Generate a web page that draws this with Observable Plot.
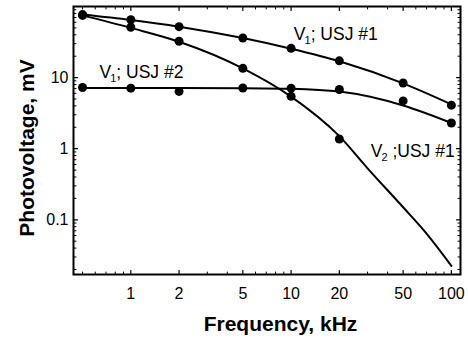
<!DOCTYPE html>
<html><head><meta charset="utf-8">
<script src="https://cdn.jsdelivr.net/npm/d3@7"></script>
<script src="https://cdn.jsdelivr.net/npm/@observablehq/plot@0.6"></script>
<style>body{margin:0;background:#fff}</style>
</head><body><div id="chart"></div>
<script>
// measured points (kHz, mV)
const freq = [0.5, 1, 2, 5, 10, 20, 50, 100];
const v1usj1 = [77, 65, 52, 36, 25.8, 17.2, 8.4, 4.1];
const freqV2 = [0.5, 1, 2, 5, 10, 20];
const v2usj1 = [75, 51, 32.4, 13.5, 5.45, 1.37];
const v1usj2 = [7.25, 7.1, 6.4, 7.15, 7.1, 6.8, 4.7, 2.3];
// fitted curves
const fitFreq1 = [0.5, 1, 2, 5, 10, 20, 50, 100];
const fitV1usj1 = [77, 64.5, 52, 36, 25.5, 17, 8.3, 4.2];
const fitFreqV2 = [0.5, 1, 2, 5, 10, 20, 30, 50, 70, 100];
const fitV2usj1 = [75, 50, 32, 13.5, 5.4, 1.5, 0.53, 0.15, 0.064, 0.0225];
const fitFreq2 = [0.5, 1, 2, 5, 10, 20, 50, 100];
const fitV1usj2 = [7.15, 7.15, 7.15, 7.1, 6.95, 6.35, 4.05, 2.3];
// ticks
const xTicks = [1, 2, 5, 10, 20, 50, 100];
const xTickLabels = ["1", "2", "5", "10", "20", "50", "100"];
const xMinor = [0.5, 0.6, 0.7, 0.8, 0.9, 3, 4, 6, 7, 8, 9, 30, 40, 60, 70, 80, 90];
const yTicks = [0.1, 1, 10];
const yTickLabels = ["0.1", "1", "10"];
const yMinor = [0.02,0.03,0.04,0.05,0.06,0.07,0.08,0.09,0.2,0.3,0.4,0.5,0.6,0.7,0.8,0.9,2,3,4,5,6,7,8,9,20,30,40,50,60,70,80,90];
// annotations
const labels = [
  {x: 10.4, y: 34, main: "V", sub: "1", rest: "; USJ #1"},
  {x: 0.638, y: 10, main: "V", sub: "1", rest: "; USJ #2"},
  {x: 31.4, y: 0.76, main: "V", sub: "2", rest: " ;USJ #1"}
];

const pts = (xs, ys) => xs.map((x, i) => ({x, y: ys[i]}));
const font = "'Liberation Sans', Arial, sans-serif";
const tickShape = {draw(context, l) { context.moveTo(0, 0); context.lineTo(0, -l); }};
const ticksX = (data, anchor, len, w) => Plot.vector(data, {x: (d) => d, frameAnchor: anchor,
  rotate: anchor === "bottom" ? 0 : 180, length: len, anchor: "start", shape: tickShape, stroke: "black", strokeWidth: w});
const ticksY = (data, anchor, len, w) => Plot.vector(data, {y: (d) => d, frameAnchor: anchor,
  rotate: anchor === "left" ? 90 : 270, length: len, anchor: "start", shape: tickShape, stroke: "black", strokeWidth: w});

const chart = Plot.plot({
  width: 468, height: 343,
  marginLeft: 73, marginRight: 8, marginTop: 6, marginBottom: 69,
  style: {fontFamily: font, color: "black", background: "white"},
  x: {type: "log", domain: [0.439, 114], axis: null},
  y: {type: "log", domain: [0.017, 100], axis: null},
  marks: [
    ticksX(xTicks, "bottom", 4, 1.2), ticksX(xMinor, "bottom", 2.5, 1),
    ticksX(xTicks, "top", 4, 1.2), ticksX(xMinor, "top", 2.5, 1),
    ticksY(yTicks, "left", 4, 1.2), ticksY(yMinor, "left", 2.5, 1),
    ticksY(yTicks, "right", 4, 1.2), ticksY(yMinor, "right", 2.5, 1),
    Plot.text(xTicks, {x: (d) => d, text: (d, i) => xTickLabels[i], frameAnchor: "bottom", dy: 13,
      lineAnchor: "top", textAnchor: "middle", fontSize: 16, fill: "black"}),
    Plot.text(yTicks, {y: (d) => d, text: (d, i) => yTickLabels[i], frameAnchor: "left", dx: -5,
      lineAnchor: "middle", textAnchor: "end", fontSize: 16, fill: "black"}),
    Plot.frame({stroke: "black", strokeWidth: 2}),
    Plot.line(pts(fitFreq1, fitV1usj1), {x: "x", y: "y", stroke: "black", strokeWidth: 2, curve: "monotone-x"}),
    Plot.line(pts(fitFreqV2, fitV2usj1), {x: "x", y: "y", stroke: "black", strokeWidth: 2, curve: "monotone-x"}),
    Plot.line(pts(fitFreq2, fitV1usj2), {x: "x", y: "y", stroke: "black", strokeWidth: 2, curve: "monotone-x"}),
    Plot.dot(pts(freq, v1usj1), {x: "x", y: "y", r: 4.5, fill: "black"}),
    Plot.dot(pts(freqV2, v2usj1), {x: "x", y: "y", r: 4.5, fill: "black"}),
    Plot.dot(pts(freq, v1usj2), {x: "x", y: "y", r: 4.5, fill: "black"}),
    Plot.text(labels, {x: "x", y: "y", text: (d) => d.main + "|" + d.sub + "|" + d.rest,
      textAnchor: "start", lineAnchor: "bottom", fontSize: 17.5, fill: "black"}),
    Plot.text(["Frequency, kHz"], {frameAnchor: "bottom", dx: 13.5, dy: 56, lineAnchor: "bottom",
      textAnchor: "middle", fontSize: 21, fontWeight: "bold", fill: "black"}),
    Plot.text(["Photovoltage, mV"], {frameAnchor: "left", dx: -40, dy: 7.5, rotate: -90, lineAnchor: "bottom",
      textAnchor: "middle", fontSize: 21, fontWeight: "bold", fill: "black"})
  ]
});

d3.select(chart).selectAll("text").each(function () {
  const t = this.textContent;
  if (t.includes("|")) {
    const [a, b, c] = t.split("|");
    const sel = d3.select(this);
    sel.text(null);
    sel.append("tspan").text(a);
    sel.append("tspan").attr("font-size", 11).attr("dy", 4).attr("dx", -1).text(b);
    sel.append("tspan").attr("dy", -4).text(c);
  }
});

document.getElementById("chart").appendChild(chart);
</script>
</body></html>
